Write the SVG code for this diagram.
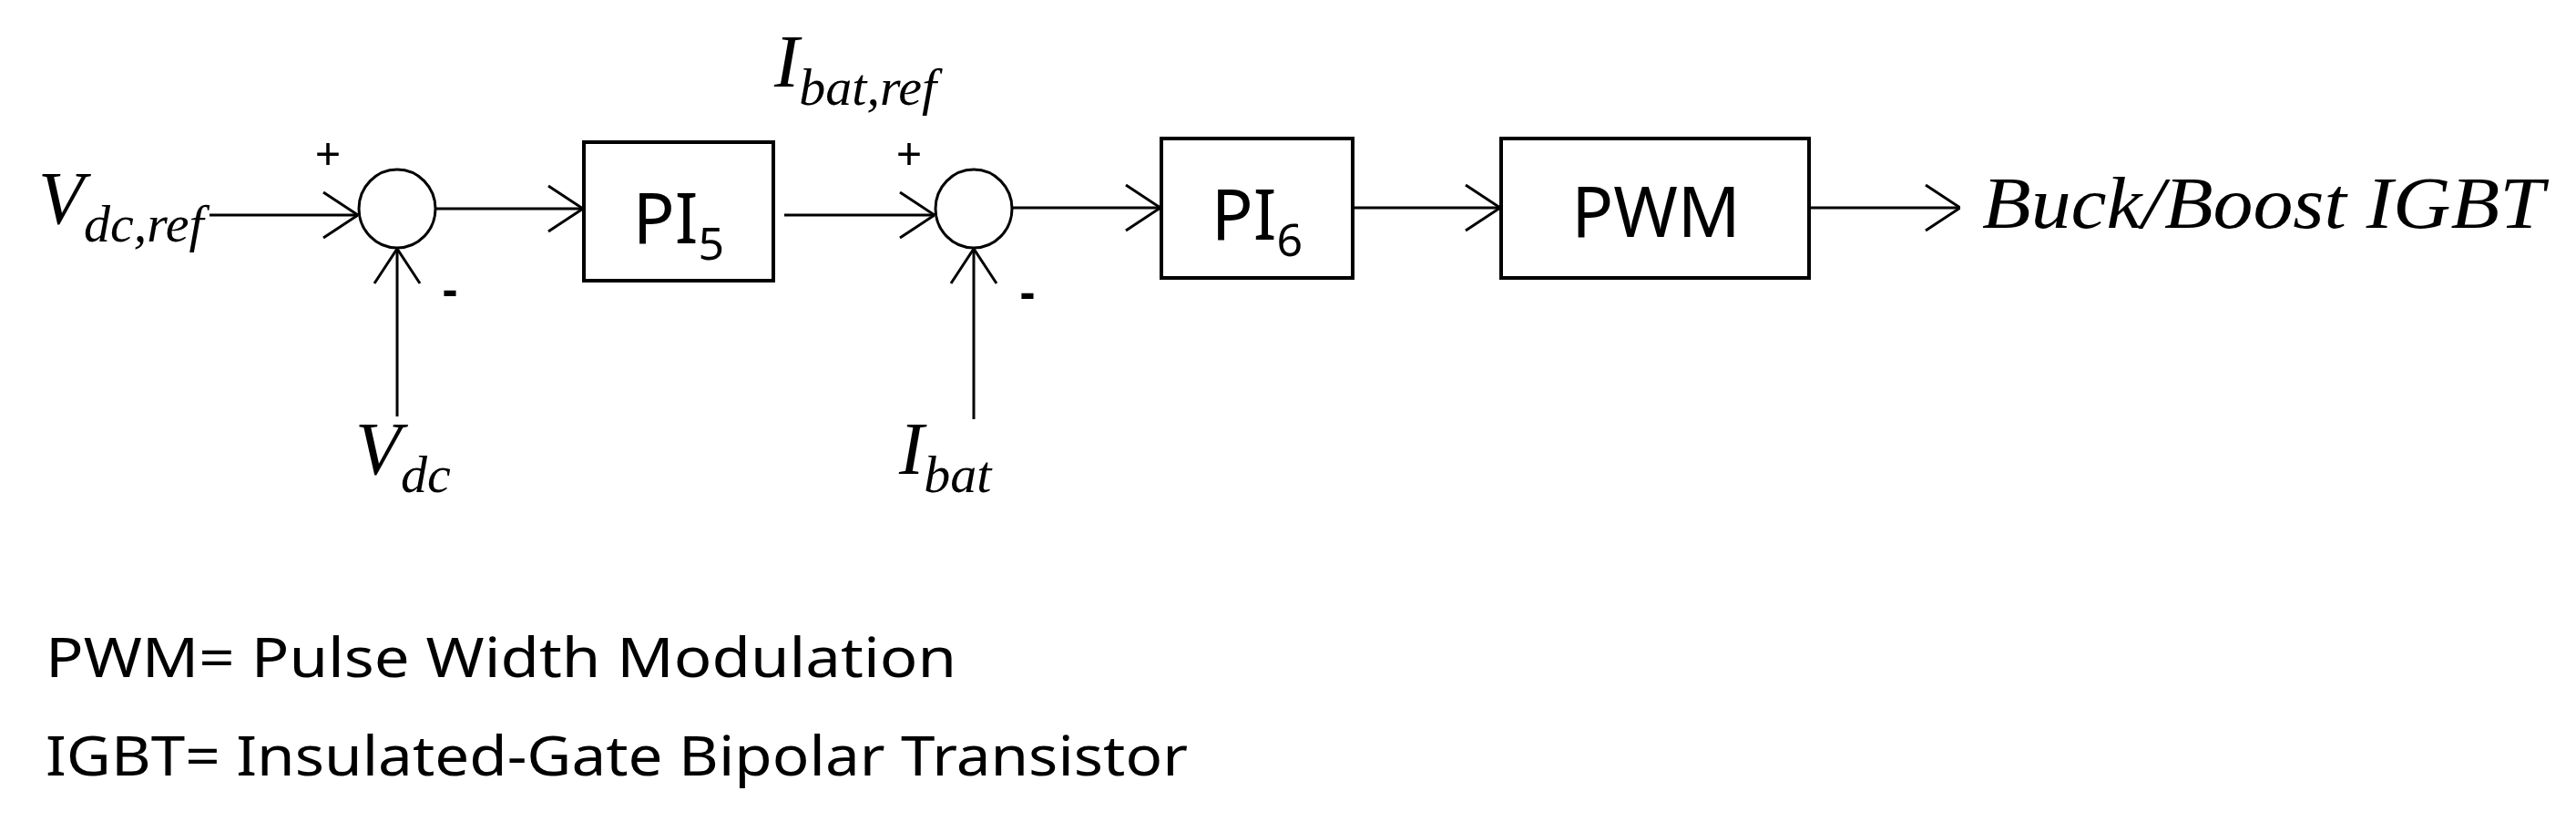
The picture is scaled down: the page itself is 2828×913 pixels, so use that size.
<svg xmlns="http://www.w3.org/2000/svg" width="2828" height="913" viewBox="0 0 2828 913">
<style>
.ln{stroke:#000;stroke-width:3;fill:none}
.bx{stroke:#000;stroke-width:4;fill:#fff}
.it{font-family:"Liberation Serif",serif;font-style:italic;fill:#000}
.sn{font-family:"Noto Sans","Liberation Sans",sans-serif;fill:#000}
</style>
<defs>
<marker id="ah" viewBox="0 0 40 54" refX="40" refY="27" markerWidth="40" markerHeight="54" markerUnits="userSpaceOnUse" orient="auto">
<path d="M2,2 L40,27 L2,52" fill="none" stroke="#000" stroke-width="3"/>
</marker>
</defs>
<g id="connectors">
<line class="ln" x1="230" y1="236" x2="393" y2="236" marker-end="url(#ah)"/>
<line class="ln" x1="436" y1="457" x2="436" y2="273" marker-end="url(#ah)"/>
<line class="ln" x1="478" y1="229" x2="640" y2="229" marker-end="url(#ah)"/>
<line class="ln" x1="861" y1="236" x2="1026" y2="236" marker-end="url(#ah)"/>
<line class="ln" x1="1069" y1="460" x2="1069" y2="273" marker-end="url(#ah)"/>
<line class="ln" x1="1110" y1="228" x2="1274" y2="228" marker-end="url(#ah)"/>
<line class="ln" x1="1485" y1="228" x2="1647" y2="228" marker-end="url(#ah)"/>
<line class="ln" x1="1988" y1="228" x2="2152" y2="228" marker-end="url(#ah)"/>
</g>
<g id="sum1"><ellipse class="ln" cx="436" cy="229" rx="42" ry="43"/>
<text class="sn" x="360" y="186" font-size="50" text-anchor="middle">+</text>
<text class="sn" x="494" y="335" font-size="50" text-anchor="middle" font-weight="bold">-</text></g>
<g id="sum2"><ellipse class="ln" cx="1069" cy="229" rx="42" ry="43"/>
<text class="sn" x="998" y="186" font-size="50" text-anchor="middle">+</text>
<text class="sn" x="1128" y="338" font-size="50" text-anchor="middle" font-weight="bold">-</text></g>
<g id="pi5"><rect class="bx" x="641" y="156" width="208" height="152"/>
<text class="sn" x="745" y="267" font-size="76" text-anchor="middle">PI<tspan font-size="50" dy="18">5</tspan></text></g>
<g id="pi6"><rect class="bx" x="1275" y="152" width="210" height="153"/>
<text class="sn" x="1380" y="263" font-size="76" text-anchor="middle">PI<tspan font-size="50" dy="18">6</tspan></text></g>
<g id="pwm"><rect class="bx" x="1648" y="152" width="338" height="153"/>
<text class="sn" x="1818" y="260" font-size="76" text-anchor="middle">PWM</text></g>
<g id="labels">
<text class="it" x="42" y="245" font-size="82">V<tspan font-size="58" dy="20">dc,ref</tspan></text>
<text class="it" x="390" y="520" font-size="82">V<tspan font-size="58" dy="20">dc</tspan></text>
<text class="it" x="850" y="95" font-size="82">I<tspan font-size="58" dy="20">bat,ref</tspan></text>
<text class="it" x="987" y="520" font-size="82">I<tspan font-size="58" dy="20">bat</tspan></text>
<text class="it" x="2176" y="250" font-size="80" textLength="617" lengthAdjust="spacingAndGlyphs">Buck/Boost IGBT</text>
</g>
<g id="legend">
<text class="sn" x="50" y="743" font-size="60" textLength="1000" lengthAdjust="spacingAndGlyphs">PWM= Pulse Width Modulation</text>
<text class="sn" x="50" y="851" font-size="60" textLength="1254" lengthAdjust="spacingAndGlyphs">IGBT= Insulated-Gate Bipolar Transistor</text>
</g>
</svg>
